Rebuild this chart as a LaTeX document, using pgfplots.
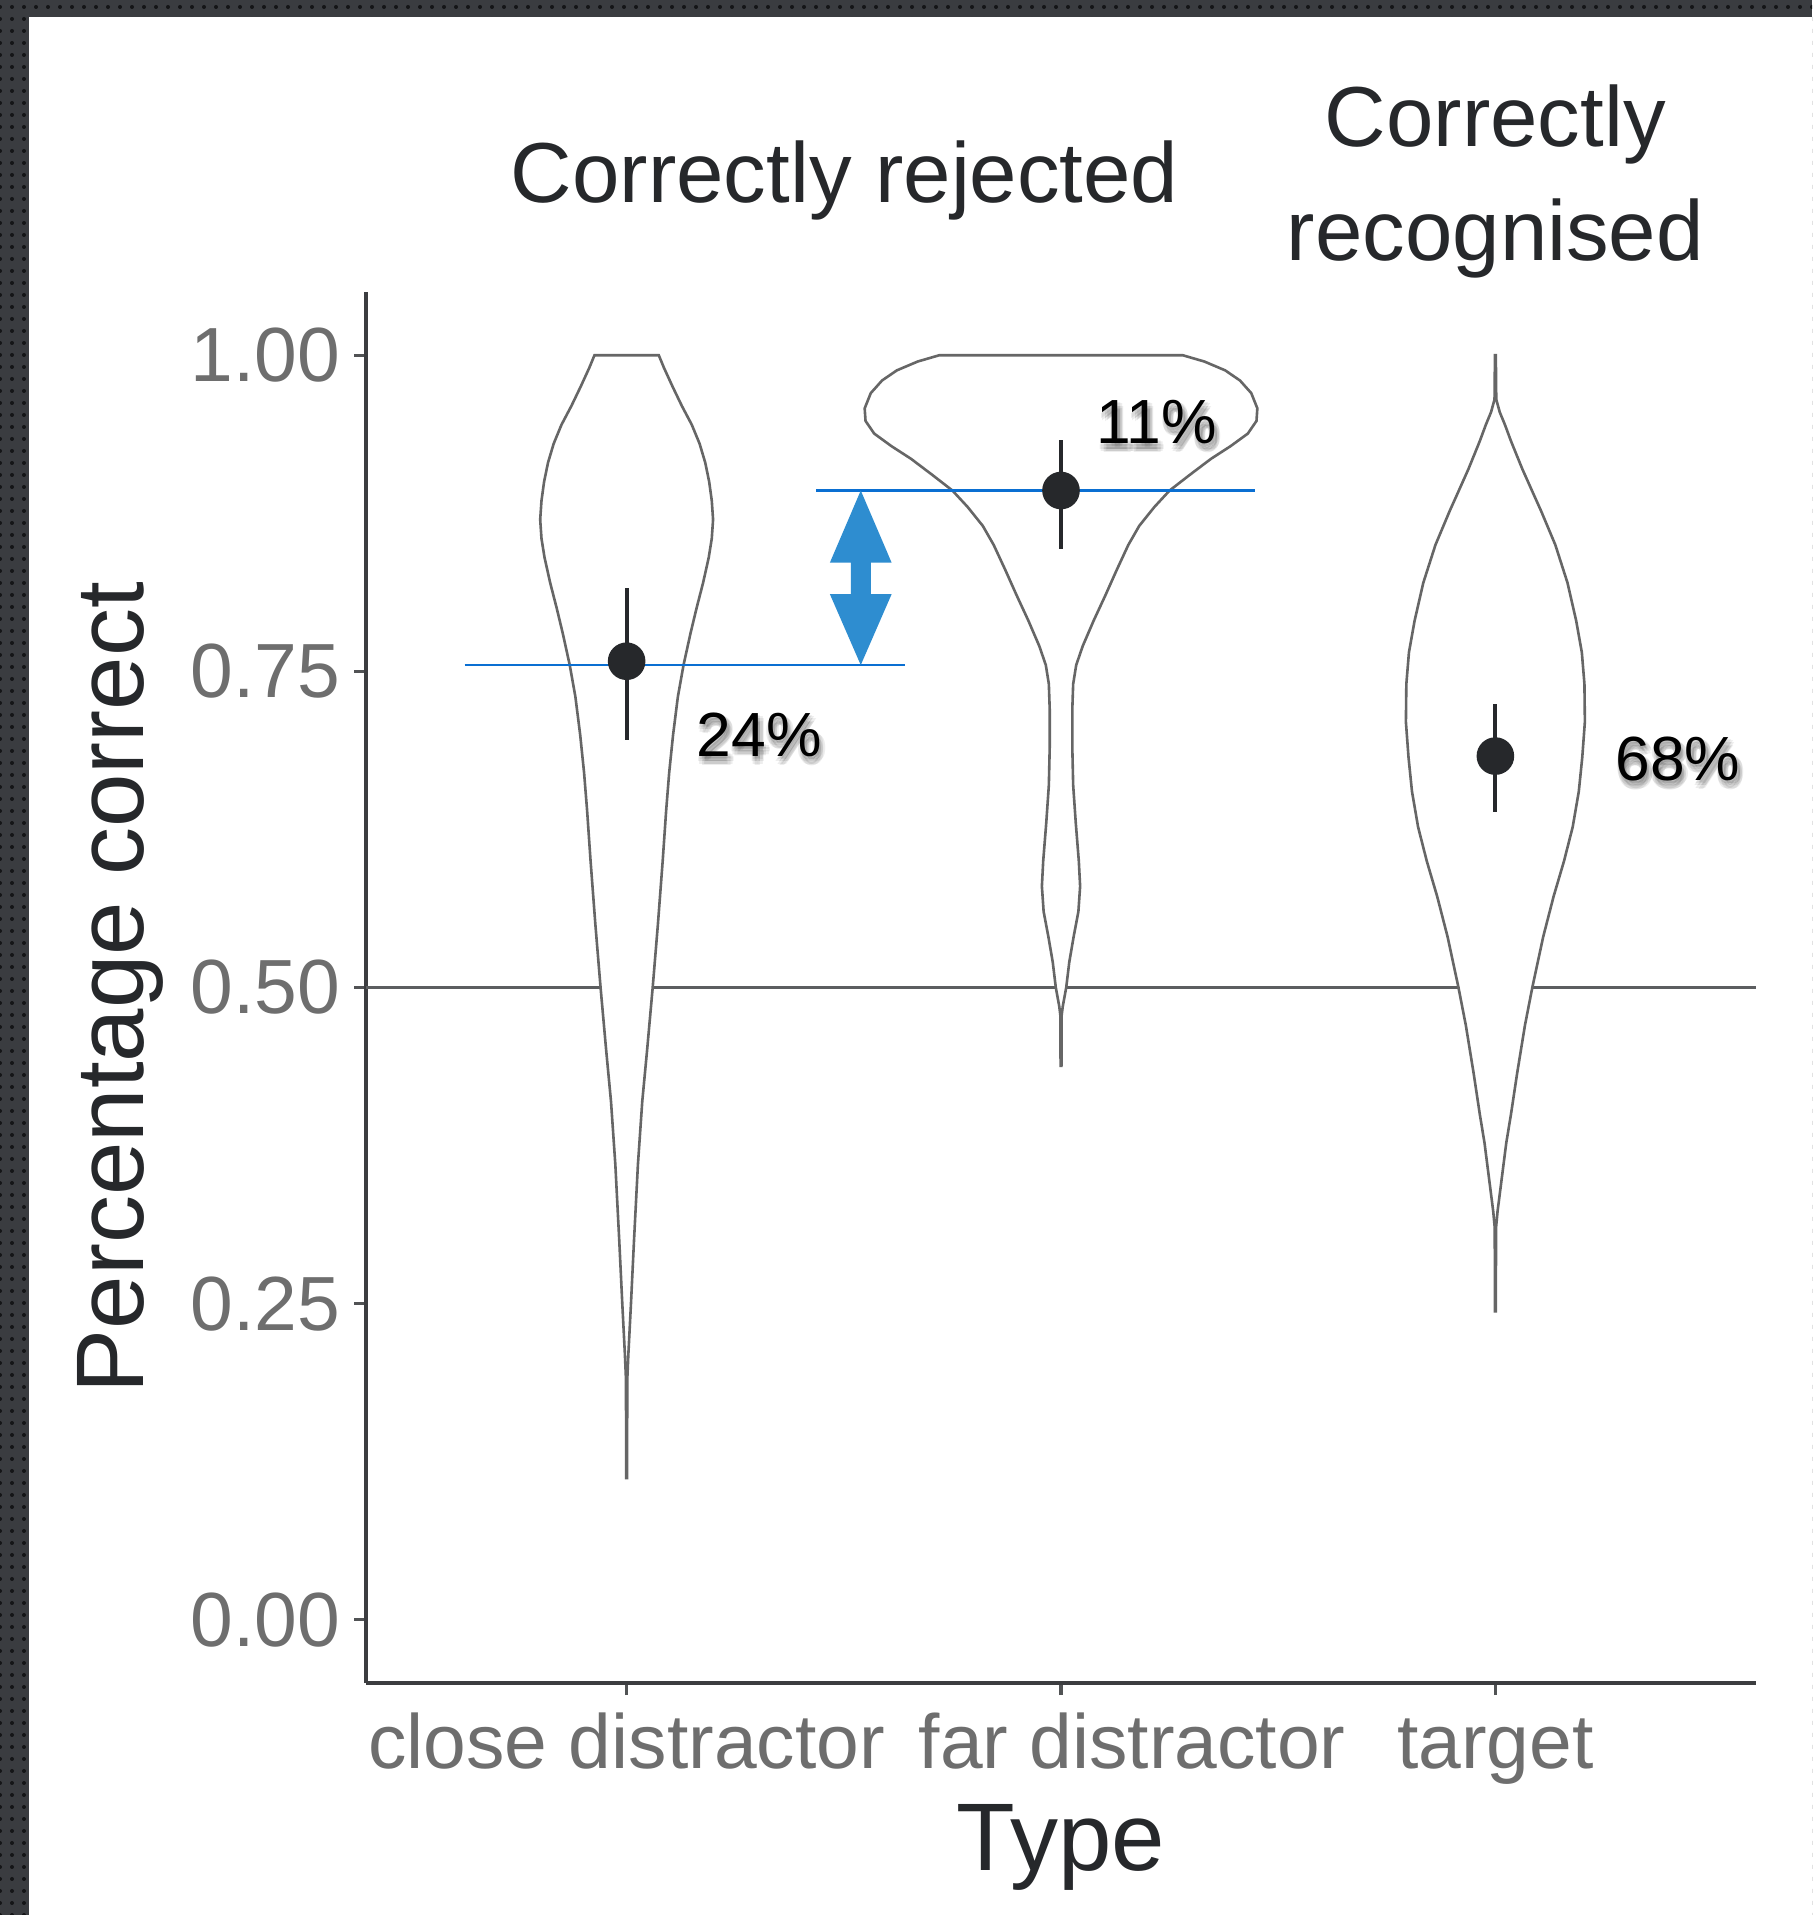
\documentclass[border=0pt]{standalone}
\usepackage{pgfplots}
\pgfplotsset{compat=1.18}
\usepackage{fontspec}
\setmainfont{Liberation Sans}
\usetikzlibrary{patterns}

\definecolor{framebg}{HTML}{3A3C40}
\definecolor{framedot}{HTML}{141517}
\definecolor{inkdark}{HTML}{26282B}
\definecolor{ticktext}{HTML}{6E6E6E}
\definecolor{violinline}{HTML}{666666}
\definecolor{meanline}{HTML}{0A6FD2}
\definecolor{arrowblue}{HTML}{2E8DD0}

% one faint copy of a label, used to build a soft shadow
\newcommand{\shadowcopy}[5]{%
  \node[text=black, opacity=0.07, xshift=#3pt, yshift=#4pt, font=\fontsize{15.6}{18}\selectfont] at (axis cs:#1,#2) {#5};
}
% label with a soft drop shadow
\newcommand{\shadowlabel}[3]{%
  \shadowcopy{#1}{#2}{0.6}{-1.4}{#3}
  \shadowcopy{#1}{#2}{1.5}{-1.4}{#3}
  \shadowcopy{#1}{#2}{-0.3}{-1.4}{#3}
  \shadowcopy{#1}{#2}{0.6}{-0.5}{#3}
  \shadowcopy{#1}{#2}{0.6}{-2.3}{#3}
  \shadowcopy{#1}{#2}{1.2}{-0.8}{#3}
  \shadowcopy{#1}{#2}{0.0}{-0.8}{#3}
  \shadowcopy{#1}{#2}{1.2}{-2.0}{#3}
  \shadowcopy{#1}{#2}{0.0}{-2.0}{#3}
  \node[text=black, font=\fontsize{15.6}{18}\selectfont] at (axis cs:#1,#2) {#3};
}

\begin{document}
\begin{tikzpicture}
\useasboundingbox (0,0) rectangle (453pt,478.75pt);
\fill[framebg] (0,0) rectangle (453pt,478.75pt);
\fill[pattern=dots, pattern color=framedot] (0,0) rectangle (453pt,478.75pt);
\fill[white] (7.25pt,0) rectangle (453pt,474.5pt);

\begin{axis}[
  at={(91.5pt,58pt)}, anchor=south west,
  scale only axis, width=347.5pt, height=347.75pt,
  xmin=0.4, xmax=3.6, ymin=-0.05, ymax=1.05,
  axis x line=bottom, axis y line=left,
  axis line style={-, line width=1.2pt, color=inkdark!90},
  xtick={1,2,3},
  xticklabels={},
  ytick={0,0.25,0.5,0.75,1},
  yticklabels={0.00,0.25,0.50,0.75,1.00},
  tick align=outside, major tick length=3pt,
  tick style={line width=0.8pt, color=inkdark!80},
  ticklabel style={font=\fontsize{19.2}{22}\selectfont, text=ticktext},
  clip=false,
]

% chance level
\addplot[line width=0.9pt, color=inkdark!75] coordinates {(0.4,0.5) (3.6,0.5)};

% close distractor
\addplot[violinline, line width=0.65pt, fill=white] coordinates {
(1.074,1.000) (1.086,0.990) (1.106,0.975) (1.127,0.960) (1.150,0.945)
(1.168,0.930) (1.181,0.915) (1.190,0.900) (1.196,0.885) (1.199,0.870)
(1.196,0.855) (1.189,0.840) (1.176,0.820) (1.161,0.800) (1.147,0.780)
(1.131,0.755) (1.118,0.730) (1.107,0.700) (1.098,0.670) (1.091,0.640)
(1.083,0.600) (1.072,0.550) (1.060,0.500) (1.047,0.450) (1.036,0.410)
(1.026,0.360) (1.017,0.300) (1.010,0.250) (1.004,0.210) (1.0015,0.190)
(1.001,0.112) (0.999,0.112)
(0.9985,0.190) (0.996,0.210) (0.990,0.250) (0.983,0.300) (0.974,0.360)
(0.964,0.410) (0.953,0.450) (0.940,0.500) (0.928,0.550) (0.917,0.600)
(0.909,0.640) (0.902,0.670) (0.893,0.700) (0.882,0.730) (0.869,0.755)
(0.853,0.780) (0.839,0.800) (0.824,0.820) (0.811,0.840) (0.804,0.855)
(0.801,0.870) (0.804,0.885) (0.810,0.900) (0.819,0.915) (0.832,0.930)
(0.850,0.945) (0.873,0.960) (0.894,0.975) (0.914,0.990) (0.926,1.000)
} -- cycle;

% far distractor
\addplot[violinline, line width=0.65pt, fill=white] coordinates {
(2.280,1.000) (2.330,0.995) (2.378,0.988) (2.412,0.980) (2.438,0.970)
(2.452,0.958) (2.450,0.948) (2.430,0.938) (2.390,0.928) (2.345,0.918)
(2.295,0.905) (2.250,0.893) (2.215,0.880) (2.180,0.865) (2.155,0.850)
(2.128,0.830) (2.102,0.810) (2.075,0.790) (2.050,0.770) (2.035,0.755)
(2.028,0.740) (2.026,0.720) (2.026,0.690) (2.028,0.660) (2.034,0.630)
(2.041,0.600) (2.044,0.580) (2.040,0.560) (2.029,0.540) (2.019,0.520)
(2.012,0.500) (2.004,0.485) (2.0015,0.478) (2.001,0.438) (1.999,0.438)
(1.9985,0.478) (1.996,0.485) (1.988,0.500) (1.981,0.520) (1.971,0.540)
(1.960,0.560) (1.956,0.580) (1.959,0.600) (1.966,0.630) (1.972,0.660)
(1.974,0.690) (1.974,0.720) (1.972,0.740) (1.965,0.755) (1.950,0.770)
(1.925,0.790) (1.898,0.810) (1.872,0.830) (1.845,0.850) (1.820,0.865)
(1.785,0.880) (1.750,0.893) (1.705,0.905) (1.655,0.918) (1.610,0.928)
(1.570,0.938) (1.550,0.948) (1.548,0.958) (1.562,0.970) (1.588,0.980)
(1.622,0.988) (1.670,0.995) (1.720,1.000)
} -- cycle;

% target
\addplot[violinline, line width=0.65pt, fill=white] coordinates {
(3.001,1.000) (3.002,0.965) (3.010,0.955) (3.022,0.945) (3.036,0.932)
(3.062,0.910) (3.088,0.890) (3.105,0.877) (3.138,0.850) (3.166,0.820)
(3.186,0.790) (3.199,0.765) (3.205,0.740) (3.206,0.710) (3.200,0.682)
(3.192,0.655) (3.178,0.627) (3.158,0.600) (3.134,0.572) (3.110,0.540)
(3.085,0.500) (3.068,0.470) (3.050,0.432) (3.036,0.400) (3.025,0.377)
(3.015,0.350) (3.005,0.323) (3.0015,0.310) (3.001,0.244) (2.999,0.244)
(2.9985,0.310) (2.995,0.323) (2.985,0.350) (2.975,0.377) (2.964,0.400)
(2.950,0.432) (2.932,0.470) (2.915,0.500) (2.890,0.540) (2.866,0.572)
(2.842,0.600) (2.822,0.627) (2.808,0.655) (2.800,0.682) (2.794,0.710)
(2.795,0.740) (2.801,0.765) (2.814,0.790) (2.834,0.820) (2.862,0.850)
(2.895,0.877) (2.912,0.890) (2.938,0.910) (2.964,0.932) (2.978,0.945)
(2.990,0.955) (2.998,0.965) (2.999,1.000)
} -- cycle;

% error bars and means
\addplot[inkdark, line width=1pt] coordinates {(1,0.696) (1,0.816)};
\addplot[inkdark, line width=1pt] coordinates {(2,0.847) (2,0.933)};
\addplot[inkdark, line width=1pt] coordinates {(3,0.639) (3,0.724)};
\addplot[only marks, mark=*, mark size=4.5pt, color=inkdark] coordinates {(1,0.758) (2,0.893) (3,0.683)};

% mean levels of the two distractor types
\addplot[meanline, line width=0.55pt] coordinates {(0.627,0.755) (1.640,0.755)};
\addplot[meanline, line width=0.55pt] coordinates {(1.436,0.893) (2.447,0.893)};

% difference arrow
\addplot[draw=none, fill=arrowblue] coordinates {
(1.539,0.893) (1.610,0.836) (1.562,0.836) (1.562,0.811) (1.610,0.811)
(1.539,0.755) (1.468,0.811) (1.516,0.811) (1.516,0.836) (1.468,0.836)
} -- cycle;

% percentages
\shadowlabel{1.305}{0.700}{24\%}
\shadowlabel{2.221}{0.947}{11\%}
\shadowlabel{3.420}{0.681}{68\%}

% category names
\node[text=ticktext, font=\fontsize{19.2}{22}\selectfont, anchor=base] at (axis cs:1.000,-0.1178) {close distractor};
\node[text=ticktext, font=\fontsize{19.2}{22}\selectfont, anchor=base] at (axis cs:2.164,-0.1178) {far distractor};
\node[text=ticktext, font=\fontsize{19.2}{22}\selectfont, anchor=base] at (axis cs:3.000,-0.1178) {target};

% group headings
\node[text=inkdark, font=\fontsize{21.3}{28.5}\selectfont] at (axis cs:1.502,1.138) {Correctly rejected};
\node[text=inkdark, font=\fontsize{21.3}{28.5}\selectfont, align=center] at (axis cs:3.0,1.137) {Correctly\\recognised};

% axis titles
\node[text=inkdark, font=\fontsize{24}{28}\selectfont, rotate=90] at (axis cs:-0.165,0.50) {Percentage correct};
\node[text=inkdark, font=\fontsize{24}{28}\selectfont, anchor=base] at (axis cs:2,-0.198) {Type};

\end{axis}
\end{tikzpicture}
\end{document}
